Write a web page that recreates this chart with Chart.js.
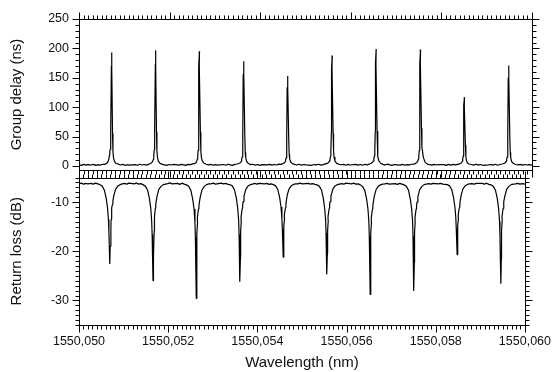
<!DOCTYPE html>
<html>
<head>
<meta charset="utf-8">
<script src="https://cdn.jsdelivr.net/npm/chart.js@4/dist/chart.umd.min.js"></script>
<style>
  body { margin: 0; background: #fff; }
  #wrap { position: relative; width: 560px; height: 372px; }
  canvas { position: absolute; left: 0; }
  #delayChart { top: 0; }
  #lossChart { top: 160px; }
</style>
</head>
<body>
<div id="wrap">
  <canvas id="delayChart" width="560" height="190"></canvas>
  <canvas id="lossChart" width="560" height="212"></canvas>
</div>
<script>
// Measured trace: wavelength (nm), one row per resonance
const wavelength = [
  1550.05000, 1550.05005, 1550.05010, 1550.05015, 1550.05020,
  1550.05027, 1550.05032, 1550.05037, 1550.05042, 1550.05047, 1550.05052, 1550.05057, 1550.05061, 1550.05064, 1550.05066, 1550.05067, 1550.05068, 1550.05069, 1550.05070, 1550.050715, 1550.05072, 1550.050725, 1550.05074, 1550.05075, 1550.05076, 1550.05078, 1550.05082, 1550.05087, 1550.05092, 1550.05097, 1550.05102, 1550.05107, 1550.05112,
  1550.05124, 1550.05129, 1550.05134, 1550.05139, 1550.05144, 1550.05149, 1550.05154, 1550.05158, 1550.05161, 1550.05163, 1550.05164, 1550.05165, 1550.05166, 1550.05167, 1550.051685, 1550.05169, 1550.051695, 1550.05171, 1550.05172, 1550.05173, 1550.05175, 1550.05179, 1550.05184, 1550.05189, 1550.05194, 1550.05199, 1550.05204, 1550.05209,
  1550.05221, 1550.05226, 1550.05231, 1550.05236, 1550.05241, 1550.05246, 1550.05251, 1550.05255, 1550.05258, 1550.05260, 1550.05261, 1550.05262, 1550.05263, 1550.05264, 1550.052645, 1550.05266, 1550.052655, 1550.05268, 1550.05269, 1550.05270, 1550.05272, 1550.05276, 1550.05281, 1550.05286, 1550.05291, 1550.05296, 1550.05301, 1550.05306,
  1550.05319, 1550.05324, 1550.05329, 1550.05334, 1550.05339, 1550.05344, 1550.05349, 1550.05353, 1550.05356, 1550.05358, 1550.05359, 1550.05360, 1550.05361, 1550.05362, 1550.053625, 1550.05364, 1550.053635, 1550.05366, 1550.05367, 1550.05368, 1550.05370, 1550.05374, 1550.05379, 1550.05384, 1550.05389, 1550.05394, 1550.05399, 1550.05404,
  1550.05416, 1550.05421, 1550.05426, 1550.05431, 1550.05436, 1550.05441, 1550.05446, 1550.05450, 1550.05453, 1550.05455, 1550.05456, 1550.05457, 1550.05458, 1550.05459, 1550.054595, 1550.05461, 1550.054605, 1550.05463, 1550.05464, 1550.05465, 1550.05467, 1550.05471, 1550.05476, 1550.05481, 1550.05486, 1550.05491, 1550.05496, 1550.05501,
  1550.05514, 1550.05519, 1550.05524, 1550.05529, 1550.05534, 1550.05539, 1550.05544, 1550.05548, 1550.05551, 1550.05553, 1550.05554, 1550.05555, 1550.05556, 1550.05557, 1550.055575, 1550.05559, 1550.055585, 1550.05561, 1550.05562, 1550.05563, 1550.05565, 1550.05569, 1550.05574, 1550.05579, 1550.05584, 1550.05589, 1550.05594, 1550.05599,
  1550.05611, 1550.05616, 1550.05621, 1550.05626, 1550.05631, 1550.05636, 1550.05641, 1550.05645, 1550.05648, 1550.05650, 1550.05651, 1550.05652, 1550.05653, 1550.05654, 1550.056545, 1550.05656, 1550.056555, 1550.05658, 1550.05659, 1550.05660, 1550.05662, 1550.05666, 1550.05671, 1550.05676, 1550.05681, 1550.05686, 1550.05691, 1550.05696,
  1550.05709, 1550.05714, 1550.05719, 1550.05724, 1550.05729, 1550.05734, 1550.05739, 1550.05743, 1550.05746, 1550.05748, 1550.05749, 1550.05750, 1550.05751, 1550.05752, 1550.057525, 1550.05754, 1550.057535, 1550.05756, 1550.05757, 1550.05758, 1550.05760, 1550.05764, 1550.05769, 1550.05774, 1550.05779, 1550.05784, 1550.05789, 1550.05794,
  1550.05806, 1550.05811, 1550.05816, 1550.05821, 1550.05826, 1550.05831, 1550.05836, 1550.05840, 1550.05843, 1550.05845, 1550.05846, 1550.05847, 1550.05848, 1550.05849, 1550.058495, 1550.05851, 1550.058505, 1550.05853, 1550.05854, 1550.05855, 1550.05857, 1550.05861, 1550.05866, 1550.05871, 1550.05876, 1550.05881, 1550.05886, 1550.05891,
  1550.05904, 1550.05909, 1550.05914, 1550.05919, 1550.05924, 1550.05929, 1550.05934, 1550.05938, 1550.05941, 1550.05943, 1550.05944, 1550.05945, 1550.05946, 1550.05947, 1550.059475, 1550.05949, 1550.059485, 1550.05951, 1550.05952, 1550.05953, 1550.05955, 1550.05959, 1550.05964, 1550.05969, 1550.05974, 1550.05979, 1550.05984, 1550.05989,
  1550.05994, 1550.06000
];

// Group delay (ns)
const groupDelay = [
  2, 0.8, 2.5, 1.2, 2,
  1.5, 2.5, 0.8, 2.2, 1.2, 2.8, 2.5, 4.5, 7, 12, 18, 25, 28, 58, 170, 193, 168, 55, 24, 15, 8, 4, 3, 1.5, 2.5, 1, 2, 1.2,
  2.2, 1, 2.8, 1.5, 2.4, 1.2, 3, 4, 6, 8.5, 11, 17, 27, 60, 173, 197, 172, 58, 26, 16, 8, 4.2, 2.5, 1.8, 0.8, 2.3, 1.5, 2.6,
  1.2, 2.5, 1.8, 0.9, 2.6, 2.2, 3.5, 3.8, 5.5, 8, 11.5, 16, 26, 59, 171, 195, 170, 57, 25, 15.5, 8.5, 4.5, 2.8, 1.6, 2.6, 1, 2.2, 1.4,
  2.4, 1.1, 2.7, 1.6, 0.8, 2.5, 3.2, 4, 5.2, 7.5, 10.5, 15, 24, 54, 156, 178, 155, 52, 23, 14, 7.5, 4, 2.2, 2.8, 1.2, 2.4, 0.9, 2.1,
  1.8, 2.6, 1.2, 2.3, 1.5, 2.9, 2.6, 3.8, 5, 7, 9.5, 13.5, 21, 46, 134, 153, 133, 45, 20, 12.5, 7, 3.8, 2.5, 1.5, 2.8, 1.2, 2.4, 1.6,
  1, 2.3, 1.7, 2.8, 1.3, 2.2, 3.4, 4.2, 5.8, 8, 11, 16, 25, 57, 165, 188, 164, 55, 24.5, 15, 8, 4.3, 2.7, 1.9, 2.5, 1.1, 2.6, 1.5,
  2.6, 1.3, 2.4, 1, 2.7, 1.8, 3.1, 4.4, 6, 8.5, 12, 17, 27, 60, 175, 199, 174, 59, 26, 16, 8.5, 4.5, 2.6, 1.4, 2.9, 1.7, 0.9, 2.3,
  1.4, 2.5, 1.1, 2.2, 1.6, 2.8, 3, 4.2, 6, 8.5, 11.5, 16.5, 26, 60, 174, 198, 175, 64, 31, 27, 15, 6, 3, 2, 1.2, 2.6, 1.5, 2.4,
  2.2, 0.9, 2.5, 1.4, 2.6, 1.6, 2.7, 3.5, 4.5, 6, 7.8, 11, 16.5, 36, 103, 117, 102, 35, 16, 10, 5.5, 3.2, 2.4, 1.3, 2.7, 1.6, 2.3, 1,
  1.6, 2.4, 1.3, 2.8, 1.1, 2.3, 3.2, 4, 5.5, 7.5, 10.5, 15, 23.5, 52, 150, 171, 149, 50, 22.5, 14, 7.5, 4, 2.4, 1.6, 2.6, 1.2, 2.3, 1.5,
  2.2, 1.4
];

// Return loss (dB)
const returnLoss = [
  -6.3, -6.15, -6.35, -6.2, -6.3,
  -6.2, -6.35, -6.15, -6.3, -6.45, -6.75, -7.6, -9.2, -11.2, -13.6, -16, -19.2, -22.6, -19, -15.4, -13.5, -12.8, -11.2, -10.5, -9.8, -8.7, -7.4, -6.75, -6.45, -6.3, -6.2, -6.35, -6.15,
  -6.3, -6.1, -6.35, -6.25, -6.5, -6.8, -7.6, -9.3, -11.3, -13.9, -16.6, -21.5, -26, -21.2, -15.9, -13.8, -13, -11.3, -10.6, -9.9, -8.8, -7.4, -6.8, -6.45, -6.35, -6.25, -6.1, -6.3,
  -6.2, -6.4, -6.15, -6.35, -6.5, -6.8, -7.65, -9.4, -11.4, -14.1, -17.2, -23.6, -29.6, -23.2, -16.4, -14, -13.1, -11.4, -10.7, -10, -8.9, -7.5, -6.8, -6.45, -6.3, -6.3, -6.15, -6.35,
  -6.15, -6.3, -6.2, -6.4, -6.45, -6.75, -7.6, -9.3, -11.3, -13.8, -16.6, -21.6, -26.2, -21.3, -16, -13.8, -13, -11.3, -10.6, -9.9, -8.8, -7.4, -6.75, -6.45, -6.35, -6.2, -6.35, -6.2,
  -6.3, -6.2, -6.4, -6.3, -6.45, -6.7, -7.5, -9.1, -11, -13.3, -15.6, -18.4, -21.2, -18.2, -15, -13.3, -12.6, -11.1, -10.4, -9.7, -8.6, -7.3, -6.7, -6.4, -6.3, -6.3, -6.15, -6.3,
  -6.2, -6.35, -6.25, -6.4, -6.5, -6.8, -7.6, -9.3, -11.3, -13.7, -16.3, -20.6, -24.7, -20.4, -15.8, -13.7, -12.9, -11.3, -10.6, -9.9, -8.8, -7.4, -6.75, -6.45, -6.35, -6.25, -6.35, -6.15,
  -6.3, -6.15, -6.35, -6.3, -6.5, -6.85, -7.65, -9.4, -11.4, -14, -17, -23, -28.8, -22.7, -16.3, -14, -13.1, -11.4, -10.7, -10, -8.9, -7.5, -6.8, -6.5, -6.35, -6.3, -6.2, -6.35,
  -6.25, -6.4, -6.2, -6.35, -6.5, -6.8, -7.6, -9.4, -11.4, -13.9, -16.9, -22.5, -28.1, -22.3, -16.2, -13.9, -13.1, -11.4, -10.7, -10, -8.9, -7.45, -6.8, -6.45, -6.35, -6.25, -6.35, -6.2,
  -6.3, -6.2, -6.35, -6.4, -6.45, -6.7, -7.5, -9.1, -11, -13.2, -15.4, -18, -20.7, -17.8, -14.8, -13.2, -12.5, -11.1, -10.4, -9.7, -8.6, -7.3, -6.7, -6.4, -6.3, -6.25, -6.35, -6.2,
  -6.2, -6.35, -6.15, -6.4, -6.5, -6.8, -7.6, -9.3, -11.3, -13.9, -16.7, -21.8, -26.6, -21.6, -16, -13.8, -13, -11.3, -10.6, -9.9, -8.8, -7.4, -6.8, -6.45, -6.35, -6.3, -6.2, -6.35,
  -6.25, -6.35
];

// Labelled ticks
const wavelengthTicks = [1550.050, 1550.052, 1550.054, 1550.056, 1550.058, 1550.060];
const delayTicks = [0, 50, 100, 150, 200, 250];
const lossTicks = [-10, -20, -30];

const FONT = 'Liberation Sans, Arial, Helvetica, sans-serif';
const AXIS_W = 79;

// Frame around the plot area with minor/major ticks pointing outwards
const frameTicks = {
  id: 'frameTicks',
  afterDatasetsDraw(chart, args, opts) {
    const {ctx, chartArea, scales} = chart;
    const x = scales.x, y = scales.y;
    const crisp = v => Math.round(v) + 0.5;
    const l = crisp(chartArea.left), r = crisp(chartArea.right);
    const t = crisp(chartArea.top), b = crisp(chartArea.bottom);
    ctx.save();
    ctx.strokeStyle = '#000';
    ctx.lineWidth = 1;
    ctx.beginPath();
    ctx.rect(l, t, r - l, b - t);

    const nx = Math.round((x.max - x.min) / opts.xMinor);
    for (let i = 0; i <= nx; i++) {
      const px = crisp(x.getPixelForValue(x.min + i * opts.xMinor));
      const len = i % opts.xEvery === 0 ? 7 : 4;
      ctx.moveTo(px, t); ctx.lineTo(px, t - len);
      ctx.moveTo(px, b); ctx.lineTo(px, b + len);
    }

    const first = Math.ceil(y.min / opts.yMinor);
    const last = Math.floor(y.max / opts.yMinor);
    for (let k = first; k <= last; k++) {
      const py = crisp(y.getPixelForValue(k * opts.yMinor));
      const len = k % opts.yEvery === 0 ? 7 : 4;
      ctx.moveTo(l, py); ctx.lineTo(l - len, py);
      ctx.moveTo(r, py); ctx.lineTo(r + len, py);
    }
    ctx.stroke();
    ctx.restore();
  }
};

function trace(values) {
  return {
    data: wavelength.map((w, i) => ({x: w, y: values[i]})),
    borderColor: '#000',
    borderWidth: 1.2,
    borderJoinStyle: 'bevel',
    pointRadius: 0,
    tension: 0
  };
}

function yAxis(min, max, ticks, title) {
  return {
    type: 'linear',
    position: 'left',
    min: min,
    max: max,
    afterFit: s => { s.width = AXIS_W; },
    afterBuildTicks: s => { s.ticks = ticks.map(v => ({value: v})); },
    grid: {display: false, drawTicks: false},
    border: {display: false},
    ticks: {color: '#111', padding: 10, font: {family: FONT, size: 12.5}},
    title: {
      display: true,
      text: title,
      color: '#111',
      padding: {top: 8, bottom: 0},
      font: {family: FONT, size: 15}
    }
  };
}

const common = {
  responsive: false,
  animation: false,
  events: [],
  plugins: {legend: {display: false}, tooltip: {enabled: false}}
};

// Upper panel: group delay
new Chart(document.getElementById('delayChart'), {
  type: 'line',
  data: {datasets: [trace(groupDelay)]},
  options: {
    ...common,
    layout: {padding: {top: 19, right: 28, bottom: 20, left: 0}},
    scales: {
      x: {type: 'linear', min: 1550.050, max: 1550.060, display: false},
      y: yAxis(-7, 250, delayTicks, 'Group delay (ns)')
    },
    plugins: {...common.plugins, frameTicks: {xMinor: 0.0001, xEvery: 20, yMinor: 10, yEvery: 5}}
  },
  plugins: [frameTicks]
});

// Lower panel: return loss
new Chart(document.getElementById('lossChart'), {
  type: 'line',
  data: {datasets: [trace(returnLoss)]},
  options: {
    ...common,
    layout: {padding: {top: 13, right: 28, bottom: 0, left: 0}},
    scales: {
      x: {
        type: 'linear',
        min: 1550.050,
        max: 1550.060,
        afterFit: s => { s.height = 47; },
        afterBuildTicks: s => { s.ticks = wavelengthTicks.map(v => ({value: v})); },
        grid: {display: false, drawTicks: false},
        border: {display: false},
        ticks: {
          color: '#111',
          padding: 9,
          maxRotation: 0,
          font: {family: FONT, size: 12.5},
          callback: v => v.toFixed(3).replace('.', ',')
        },
        title: {
          display: true,
          text: 'Wavelength (nm)',
          color: '#111',
          padding: {top: 0, bottom: 0},
          font: {family: FONT, size: 15}
        }
      },
      y: yAxis(-35, -5, lossTicks, 'Return loss (dB)')
    },
    plugins: {...common.plugins, frameTicks: {xMinor: 0.0001, xEvery: 20, yMinor: 1, yEvery: 10}}
  },
  plugins: [frameTicks]
});
</script>
</body>
</html>
